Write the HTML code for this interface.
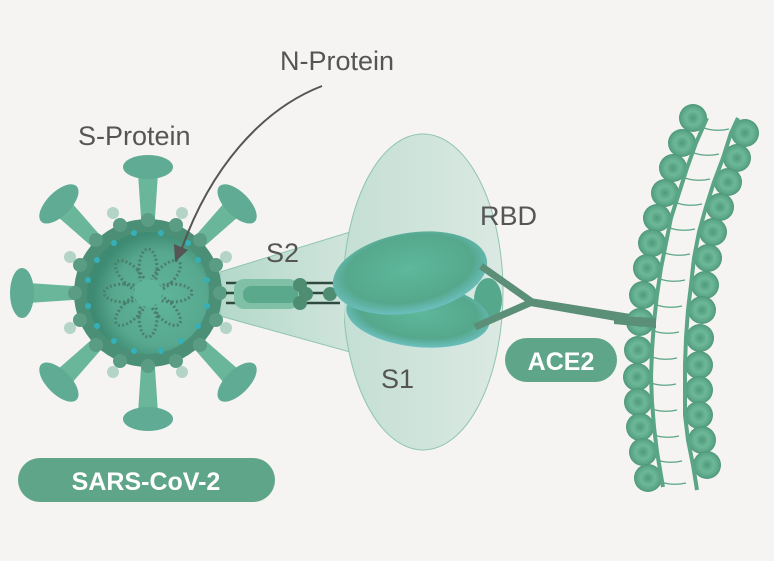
<!DOCTYPE html>
<html><head><meta charset="utf-8"><style>
html,body{margin:0;padding:0;background:#f5f4f2;}
svg{display:block}
text{font-family:"Liberation Sans",sans-serif;}
</style></head><body>
<svg width="774" height="561" viewBox="0 0 774 561" xmlns="http://www.w3.org/2000/svg">
<defs>
<radialGradient id="bead" cx="50%" cy="50%" r="50%">
<stop offset="0" stop-color="#4f9a7e"/><stop offset="0.5" stop-color="#6cb898"/><stop offset="0.85" stop-color="#5aa586"/><stop offset="1" stop-color="#4e957a"/>
</radialGradient>
<radialGradient id="body" cx="60%" cy="55%" r="55%">
<stop offset="0" stop-color="#5fb59a"/><stop offset="0.7" stop-color="#57a88e"/><stop offset="1" stop-color="#3e8a72"/>
</radialGradient>
<linearGradient id="cone" x1="0" x2="1">
<stop offset="0" stop-color="#b4d9ca"/><stop offset="1" stop-color="#cfe4db"/>
</linearGradient>
<linearGradient id="s1" x1="0" x2="1">
<stop offset="0" stop-color="#c4dfd4"/><stop offset="1" stop-color="#dbe9e3"/>
</linearGradient>
<radialGradient id="rbd" cx="50%" cy="45%" r="55%">
<stop offset="0" stop-color="#5eb89b"/><stop offset="0.75" stop-color="#55a88c"/><stop offset="1" stop-color="#6cc0c0"/>
</radialGradient>
</defs>
<rect width="774" height="561" fill="#f5f4f2"/>

<path d="M220,272 L350,232 L350,352 L220,316 Z" fill="url(#cone)" stroke="#8fc4b0" stroke-width="1"/>
<ellipse cx="423" cy="292" rx="80" ry="158" fill="url(#s1)" stroke="#8fc4b0" stroke-width="1"/>
<path d="M222,273 L344,236 L344,348 L222,315 Z" fill="url(#cone)"/>

<!-- spikes -->
<g fill="#5fab93">
<g transform="translate(148,293)">
<g id="sp"><path d="M-6,-60 L-10,-120 L10,-120 L6,-60 Z" fill="#6ab69b"/><ellipse cx="0" cy="-126" rx="25" ry="12"/></g>
<use href="#sp" transform="rotate(45)"/>
<use href="#sp" transform="rotate(135)"/>
<use href="#sp" transform="rotate(180)"/>
<use href="#sp" transform="rotate(225)"/>
<use href="#sp" transform="rotate(270)"/>
<use href="#sp" transform="rotate(315)"/>
</g>
</g>
<circle cx="148" cy="293" r="74" fill="#4a8f76"/>
<g fill="#5a9d84">
<circle cx="148" cy="220" r="7"/><circle cx="176" cy="225" r="7"/><circle cx="200" cy="240" r="7"/><circle cx="216" cy="265" r="7"/><circle cx="220" cy="293" r="7"/><circle cx="216" cy="320" r="7"/><circle cx="200" cy="345" r="7"/><circle cx="176" cy="361" r="7"/><circle cx="148" cy="366" r="7"/><circle cx="120" cy="361" r="7"/><circle cx="96" cy="345" r="7"/><circle cx="80" cy="320" r="7"/><circle cx="75" cy="293" r="7"/><circle cx="80" cy="265" r="7"/><circle cx="96" cy="240" r="7"/><circle cx="120" cy="225" r="7"/>
</g>
<g fill="#a9cfc0" opacity="0.85">
<circle cx="113" cy="213" r="6"/><circle cx="182" cy="213" r="6"/><circle cx="226" cy="257" r="6"/><circle cx="226" cy="328" r="6"/><circle cx="182" cy="372" r="6"/><circle cx="113" cy="372" r="6"/><circle cx="70" cy="328" r="6"/><circle cx="70" cy="257" r="6"/>
</g>
<circle cx="148" cy="293" r="61" fill="url(#body)"/>
<g fill="#36b0b8">
<circle cx="134" cy="233" r="3"/><circle cx="161" cy="233" r="3"/><circle cx="188" cy="243" r="3"/><circle cx="198" cy="260" r="3"/><circle cx="207" cy="280" r="3"/><circle cx="207" cy="306" r="3"/><circle cx="198" cy="326" r="3"/><circle cx="181" cy="341" r="3"/><circle cx="161" cy="351" r="3"/><circle cx="134" cy="351" r="3"/><circle cx="114" cy="341" r="3"/><circle cx="97" cy="326" r="3"/><circle cx="88" cy="306" r="3"/><circle cx="88" cy="280" r="3"/><circle cx="97" cy="260" r="3"/><circle cx="114" cy="243" r="3"/>
</g>
<g fill="none" stroke="#4b7f6c" stroke-width="3" stroke-dasharray="2 2.2" transform="translate(148,293)">
<ellipse cx="0" cy="-24" rx="9" ry="20"/>
<ellipse cx="0" cy="-24" rx="9" ry="20" transform="rotate(45)"/>
<ellipse cx="0" cy="-24" rx="9" ry="20" transform="rotate(90)"/>
<ellipse cx="0" cy="-24" rx="9" ry="20" transform="rotate(135)"/>
<ellipse cx="0" cy="-24" rx="9" ry="20" transform="rotate(180)"/>
<ellipse cx="0" cy="-24" rx="9" ry="20" transform="rotate(225)"/>
<ellipse cx="0" cy="-24" rx="9" ry="20" transform="rotate(270)"/>
<ellipse cx="0" cy="-24" rx="9" ry="20" transform="rotate(315)"/>
</g>
<circle cx="148" cy="293" r="14" fill="#5fb59a"/>

<g stroke="#2f4a3f" stroke-width="2.5">
<line x1="226" y1="283" x2="340" y2="283"/><line x1="226" y1="293" x2="340" y2="293"/><line x1="226" y1="303" x2="340" y2="303"/>
</g>
<rect x="234" y="279" width="65" height="30" rx="10" fill="#7fc0a6"/>
<rect x="243" y="286" width="55" height="17" rx="8" fill="#5aa98d"/>
<g fill="#4f8d72"><circle cx="300" cy="285" r="7"/><circle cx="306" cy="294" r="7"/><circle cx="300" cy="303" r="7"/><circle cx="330" cy="294" r="7"/></g>

<ellipse cx="488" cy="300" rx="14" ry="22" fill="#56a88c"/>
<ellipse cx="418" cy="315" rx="72" ry="32" fill="url(#rbd)" transform="rotate(6 418 315)"/>
<ellipse cx="410" cy="273" rx="78" ry="40" fill="url(#rbd)" transform="rotate(-10 410 273)"/>
<path d="M481,266 L532,302 L475,327" fill="none" stroke="#5b8f77" stroke-width="7" stroke-linejoin="round"/>
<path d="M530,298 L656,318 L656,328 L530,306 Z" fill="#5b8f77"/>

<!-- membrane -->
<g stroke="#5aa586" fill="none" stroke-width="1.2">
<path d="M704,128 q12,4 25,1"/><path d="M694,153 q12,4 25,1"/><path d="M685,178 q12,4 25,1"/><path d="M677,203 q12,4 25,1"/><path d="M670,228 q12,4 25,1"/><path d="M665,253 q12,4 25,1"/><path d="M660,279 q12,4 25,1"/><path d="M657,305 q12,4 25,1"/><path d="M654,331 q12,4 25,1"/><path d="M652,357 q12,4 25,1"/><path d="M651,383 q12,4 25,1"/><path d="M652,409 q12,4 25,1"/><path d="M654,435 q12,4 25,1"/><path d="M657,460 q12,4 25,1"/><path d="M661,482 q12,4 25,1"/>
</g>
<g fill="url(#bead)">
<circle cx="693" cy="118" r="14"/><circle cx="682" cy="143" r="14"/><circle cx="673" cy="168" r="14"/><circle cx="665" cy="193" r="14"/><circle cx="657" cy="218" r="14"/><circle cx="652" cy="243" r="14"/><circle cx="647" cy="268" r="14"/><circle cx="643" cy="295" r="14"/><circle cx="640" cy="322" r="14"/><circle cx="638" cy="350" r="14"/><circle cx="637" cy="377" r="14"/><circle cx="638" cy="402" r="14"/><circle cx="640" cy="427" r="14"/><circle cx="643" cy="452" r="14"/><circle cx="648" cy="478" r="14"/>
<circle cx="745" cy="133" r="14"/><circle cx="737" cy="158" r="14"/><circle cx="728" cy="182" r="14"/><circle cx="720" cy="207" r="14"/><circle cx="713" cy="232" r="14"/><circle cx="708" cy="258" r="14"/><circle cx="705" cy="285" r="14"/><circle cx="702" cy="310" r="14"/><circle cx="700" cy="338" r="14"/><circle cx="699" cy="365" r="14"/><circle cx="699" cy="390" r="14"/><circle cx="699" cy="415" r="14"/><circle cx="702" cy="440" r="14"/><circle cx="707" cy="465" r="14"/>
</g>
<polyline points="707,118 696,143 687,168 679,193 671,218 666,243 661,268 657,295 654,322 652,350 651,377 652,402 654,427 657,452 663,487" fill="none" stroke="#5aa586" stroke-width="4" stroke-linejoin="round"/>
<polyline points="738,118 731,133 723,158 714,182 706,207 699,232 694,258 691,285 688,310 686,338 685,365 685,390 685,415 688,440 693,465 697,490" fill="none" stroke="#5aa586" stroke-width="4" stroke-linejoin="round"/>
<path d="M656,318 L656,328 L614,324 L614,316 Z" fill="#5b8f77"/>

<path d="M322,86 C260,110 210,170 182,248" fill="none" stroke="#555" stroke-width="2"/>
<path d="M175,262 L174,244 L188,250 Z" fill="#555"/>

<g fill="#555" font-size="27">
<text x="280" y="70">N-Protein</text>
<text x="78" y="145">S-Protein</text>
<text x="266" y="262">S2</text>
<text x="480" y="225">RBD</text>
<text x="381" y="388">S1</text>
</g>
<rect x="505" y="338" width="112" height="44" rx="22" fill="#5fa58a"/>
<text x="561" y="370" text-anchor="middle" fill="#fff" font-size="25" font-weight="bold">ACE2</text>
<rect x="18" y="458" width="257" height="44" rx="22" fill="#5fa58a"/>
<text x="146" y="490" text-anchor="middle" fill="#fff" font-size="25" font-weight="bold">SARS-CoV-2</text>
</svg>
</body></html>
